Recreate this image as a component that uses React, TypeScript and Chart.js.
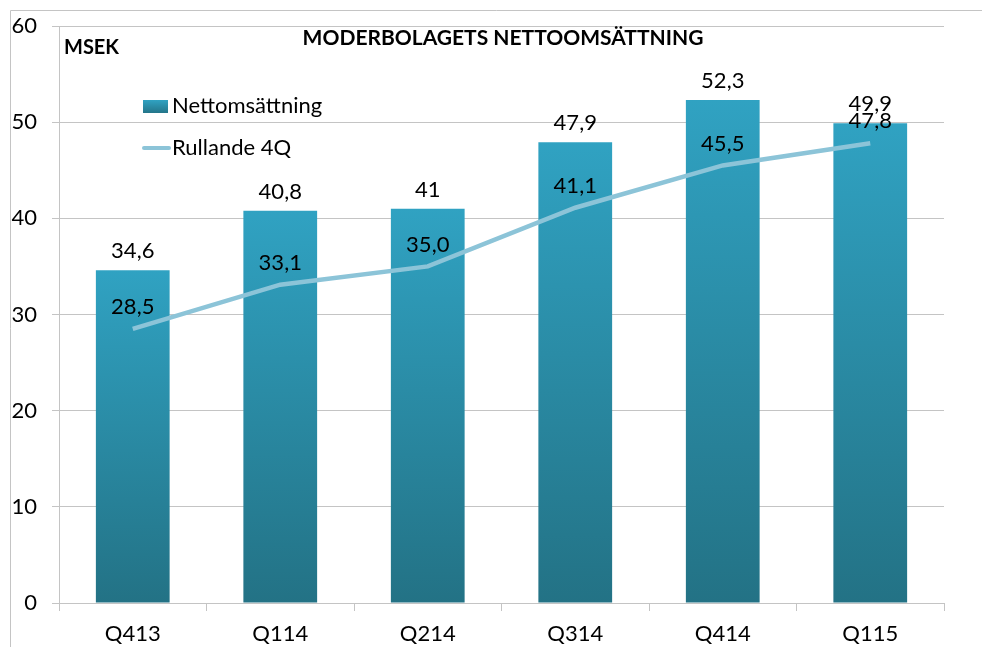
import React, { useEffect, useRef } from "react";
import { Chart, registerables } from "chart.js";

Chart.register(...registerables);

const categories = ["Q413", "Q114", "Q214", "Q314", "Q414", "Q115"];
const nettoValues = [34.6, 40.8, 41, 47.9, 52.3, 49.9];
const rullandeValues = [28.5, 33.1, 35.0, 41.1, 45.5, 47.8];
const yTicks = [0, 10, 20, 30, 40, 50, 60];

const FONT = "Lato, 'Open Sans', sans-serif";
const LINE_COLOR = "#8cc4d8";
const BAR_TOP = "#30a2c2";
const BAR_BOTTOM = "#237285";

const fmtBar = (v: number) => String(v).replace(".", ",");
const fmtLine = (v: number) => v.toFixed(1).replace(".", ",");

const decorPlugin = {
  id: "decor",
  beforeDraw(chart: any) {
    const ctx = chart.ctx;
    ctx.save();
    ctx.strokeStyle = "#c4c4c4";
    ctx.lineWidth = 1;
    ctx.beginPath();
    ctx.moveTo(10.5, chart.height);
    ctx.lineTo(10.5, 10.5);
    ctx.lineTo(chart.width, 10.5);
    ctx.stroke();
    ctx.restore();
  },
  afterDatasetsDraw(chart: any) {
    const ctx = chart.ctx;
    ctx.save();
    ctx.fillStyle = "#000";
    ctx.font = `22px ${FONT}`;
    ctx.textAlign = "center";
    ctx.textBaseline = "bottom";
    chart.data.datasets.forEach((ds: any, di: number) => {
      const meta = chart.getDatasetMeta(di);
      meta.data.forEach((el: any, i: number) => {
        const v = ds.data[i];
        const txt = ds.type === "line" ? fmtLine(v) : fmtBar(v);
        const off = ds.type === "line" ? 11 : 8;
        ctx.fillText(txt, el.x, el.y - off);
      });
    });
    // title
    ctx.font = `bold 21px ${FONT}`;
    ctx.textBaseline = "middle";
    ctx.fillText("MODERBOLAGETS NETTOOMSÄTTNING", 503, 38);
    ctx.textAlign = "left";
    ctx.font = `bold 20px ${FONT}`;
    ctx.fillText("MSEK", 64, 48);
    // legend
    const barDs = chart.data.datasets.find((d: any) => d.type === "bar");
    const lineDs = chart.data.datasets.find((d: any) => d.type === "line");
    const g = ctx.createLinearGradient(0, 100, 0, 114);
    g.addColorStop(0, BAR_TOP);
    g.addColorStop(1, BAR_BOTTOM);
    ctx.fillStyle = g;
    ctx.fillRect(143, 100, 25, 13);
    ctx.fillStyle = "#000";
    ctx.font = `22px ${FONT}`;
    ctx.fillText(barDs.label, 172, 106);
    ctx.strokeStyle = LINE_COLOR;
    ctx.lineWidth = 4;
    ctx.lineCap = "round";
    ctx.beginPath();
    ctx.moveTo(144, 148);
    ctx.lineTo(169, 148);
    ctx.stroke();
    ctx.fillText(lineDs.label, 172, 148);
    ctx.restore();
  },
};

export default function App() {
  const ref = useRef<HTMLCanvasElement | null>(null);
  useEffect(() => {
    document.body.style.margin = "0";
    const canvas = ref.current!;
    const chart = new Chart(canvas, {
      type: "bar",
      data: {
        labels: categories,
        datasets: [
          {
            type: "line",
            label: "Rullande 4Q",
            data: rullandeValues,
            borderColor: LINE_COLOR,
            borderWidth: 4.5,
            pointRadius: 0,
            tension: 0,
            order: 0,
          } as any,
          {
            type: "bar",
            label: "Nettomsättning",
            data: nettoValues,
            barPercentage: 0.5,
            categoryPercentage: 1,
            order: 1,
            backgroundColor: (c: any) => {
              const ch = c.chart;
              const ys = ch.scales && ch.scales.y;
              if (!ys || c.raw === undefined) return BAR_TOP;
              const top = ys.getPixelForValue(c.raw);
              const bottom = ys.getPixelForValue(0);
              if (!isFinite(top) || !isFinite(bottom) || top === bottom) return BAR_TOP;
              const g = ch.ctx.createLinearGradient(0, top, 0, bottom);
              g.addColorStop(0, BAR_TOP);
              g.addColorStop(1, BAR_BOTTOM);
              return g;
            },
          } as any,
        ],
      },
      options: {
        animation: false,
        responsive: false,
        maintainAspectRatio: false,
        layout: { padding: { left: 0, top: 26, right: 38, bottom: 0 } },
        plugins: {
          legend: { display: false },
          tooltip: { enabled: false },
          title: { display: false },
        },
        scales: {
          x: {
            grid: {
              offset: true,
              drawOnChartArea: false,
              drawTicks: true,
              tickLength: 8,
              color: "#c4c4c4",
            },
            border: { color: "#c4c4c4" },
            ticks: {
              color: "#000",
              font: { family: FONT, size: 22 },
              padding: 10,
            },
            afterFit: (s: any) => {
              s.height = 44;
              s.paddingLeft = 0;
              s.paddingRight = 0;
            },
          },
          y: {
            min: 0,
            max: 60,
            afterBuildTicks: (s: any) => {
              s.ticks = yTicks.map((v) => ({ value: v }));
            },
            grid: { color: "#c4c4c4", tickLength: 7 },
            border: { color: "#c4c4c4" },
            ticks: {
              color: "#000",
              font: { family: FONT, size: 22 },
              padding: 15,
            },
            afterFit: (s: any) => {
              s.width = 59;
              s.paddingTop = 0;
              s.paddingBottom = 0;
            },
          },
        },
      },
      plugins: [decorPlugin],
    });
    return () => chart.destroy();
  }, []);
  return <canvas ref={ref} width={982} height={647} style={{ display: "block" }} />;
}
